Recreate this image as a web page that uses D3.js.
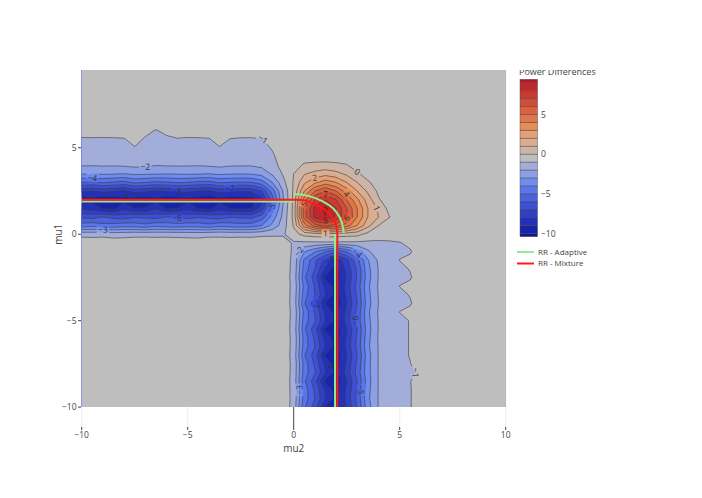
<!DOCTYPE html>
<meta charset="utf-8">
<style>
body { margin: 0; background: #fff; }
svg { font-family: "Open Sans", sans-serif; }
</style>
<svg width="702" height="498"></svg>
<script src="https://cdn.jsdelivr.net/npm/d3@7"></script>
<script>

// grid columns (mu2) and rows (mu1, top row first)
var mu2 = [-10,-9.5,-9,-8.5,-8,-7.5,-7,-6.5,-6,-5.5,-5,-4.5,-4,-3.5,-3,-2.5,-2,-1.5,-1,-0.5,
           0,0.5,1,1.5,2,2.5,3,3.5,4,4.5,5,5.5,6,6.5,7,7.5,8,8.5,9,9.5,10];
var mu1 = [9.5,9,8.5,8,7.5,7,6.5,6,5.5,5,4.5,4,3.5,3,2.5,2,1.5,1,0.5,0,
           -0.5,-1,-1.5,-2,-2.5,-3,-3.5,-4,-4.5,-5,-5.5,-6,-6.5,-7,-7.5,-8,-8.5,-9,-9.5,-10];

// power difference, one row per mu1 value (top to bottom)
var power = [
[-.5,-.5,-.5,-.5,-.5,-.5,-.5,-.5,-.5,-.5,-.5,-.5,-.5,-.5,-.5,-.5,-.5,-.5,-.5,-.5,-.5,-.5,-.5,-.5,-.5,-.5,-.5,-.5,-.5,-.5,-.5,-.5,-.5,-.5,-.5,-.5,-.5,-.5,-.5,-.5,-.5],
[-.5,-.5,-.5,-.5,-.5,-.5,-.5,-.5,-.5,-.5,-.5,-.5,-.5,-.5,-.5,-.5,-.5,-.5,-.5,-.5,-.5,-.5,-.5,-.5,-.5,-.5,-.5,-.5,-.5,-.5,-.5,-.5,-.5,-.5,-.5,-.5,-.5,-.5,-.5,-.5,-.5],
[-.5,-.5,-.5,-.5,-.5,-.5,-.5,-.5,-.5,-.5,-.5,-.5,-.5,-.5,-.5,-.5,-.5,-.5,-.5,-.5,-.5,-.5,-.5,-.5,-.5,-.5,-.5,-.5,-.5,-.5,-.5,-.5,-.5,-.5,-.5,-.5,-.5,-.5,-.5,-.5,-.5],
[-.5,-.5,-.5,-.5,-.5,-.5,-.5,-.5,-.5,-.5,-.5,-.5,-.5,-.5,-.5,-.5,-.5,-.5,-.5,-.5,-.5,-.5,-.5,-.5,-.5,-.5,-.5,-.5,-.5,-.5,-.5,-.5,-.5,-.5,-.5,-.5,-.5,-.5,-.5,-.5,-.5],
[-.5,-.5,-.5,-.5,-.5,-.5,-.5,-.5,-.5,-.5,-.5,-.5,-.5,-.5,-.5,-.5,-.5,-.5,-.5,-.5,-.5,-.5,-.5,-.5,-.5,-.5,-.5,-.5,-.5,-.5,-.5,-.5,-.5,-.5,-.5,-.5,-.5,-.5,-.5,-.5,-.5],
[-.5,-.5,-.5,-.5,-.5,-.5,-.5,-.5,-.5,-.5,-.5,-.5,-.5,-.5,-.5,-.5,-.5,-.5,-.5,-.5,-.5,-.5,-.5,-.5,-.5,-.5,-.5,-.5,-.5,-.5,-.5,-.5,-.5,-.5,-.5,-.5,-.5,-.5,-.5,-.5,-.5],
[-.5,-.5,-.5,-.5,-.5,-.5,-.5,-.5,-.5,-.5,-.5,-.5,-.5,-.5,-.5,-.5,-.5,-.5,-.5,-.5,-.5,-.5,-.5,-.5,-.5,-.5,-.5,-.5,-.5,-.5,-.5,-.5,-.5,-.5,-.5,-.5,-.5,-.5,-.5,-.5,-.5],
[-.6,-.6,-.6,-.6,-.6,-.6,-.75,-1.05,-.8,-.6,-.6,-.6,-.6,-.6,-.6,-.6,-.6,-.6,-.55,-.5,-.5,-.5,-.5,-.5,-.5,-.5,-.5,-.5,-.5,-.5,-.5,-.5,-.5,-.5,-.5,-.5,-.5,-.5,-.5,-.5,-.5],
[-1.1,-1.08,-1.1,-1.08,-1.05,-.7,-1.1,-1.3,-1.15,-1.05,-1.1,-1.08,-1.05,-.7,-1.02,-1.08,-1.08,-1.02,-.82,-.58,-.5,-.5,-.5,-.5,-.5,-.5,-.5,-.5,-.5,-.5,-.5,-.5,-.5,-.5,-.5,-.5,-.5,-.5,-.5,-.5,-.5],
[-1.3,-1.32,-1.28,-1.3,-1.25,-1.05,-1.3,-1.35,-1.3,-1.28,-1.3,-1.32,-1.25,-1.05,-1.28,-1.3,-1.3,-1.2,-.94,-.62,-.5,-.5,-.5,-.5,-.5,-.5,-.5,-.5,-.5,-.5,-.5,-.5,-.5,-.5,-.5,-.5,-.5,-.5,-.5,-.5,-.5],
[-1.6,-1.62,-1.58,-1.6,-1.55,-1.45,-1.6,-1.65,-1.6,-1.58,-1.6,-1.62,-1.55,-1.45,-1.58,-1.6,-1.6,-1.47,-1.1,-.67,-.5,-.5,-.5,-.5,-.5,-.5,-.5,-.5,-.5,-.5,-.5,-.5,-.5,-.5,-.5,-.5,-.5,-.5,-.5,-.5,-.5],
[-1.9,-1.92,-1.88,-1.9,-1.85,-1.75,-1.8,-1.95,-1.9,-1.88,-1.9,-1.92,-1.85,-1.75,-1.88,-1.9,-1.9,-1.73,-1.27,-.72,-.5,.15,.25,.3,.2,.05,-.5,-.5,-.5,-.5,-.5,-.5,-.5,-.5,-.5,-.5,-.5,-.5,-.5,-.5,-.5],
[-2.9,-2.95,-2.85,-2.9,-3,-2.8,-2.85,-2.9,-2.95,-2.9,-2.85,-2.9,-3,-2.8,-2.9,-2.95,-2.9,-2.6,-1.82,-.9,0,.9,1.3,1.6,1.3,.8,.15,-.5,-.5,-.5,-.5,-.5,-.5,-.5,-.5,-.5,-.5,-.5,-.5,-.5,-.5],
[-5,-5.2,-4.9,-5.1,-5.3,-4.8,-5,-5.2,-5.1,-4.9,-5,-5.2,-5.3,-4.9,-5,-5.1,-5,-4.46,-2.98,-1.3,.1,1.8,2.8,3.5,3,2,1,.15,-.5,-.5,-.5,-.5,-.5,-.5,-.5,-.5,-.5,-.5,-.5,-.5,-.5],
[-7.8,-8,-7.7,-7.9,-8.1,-7.6,-7.8,-8,-7.9,-7.7,-7.8,-8,-8.1,-7.7,-7.8,-7.9,-7.8,-6.92,-4.5,-1.9,.2,3,5,6,5,3.5,2,.8,-.2,-.5,-.5,-.5,-.5,-.5,-.5,-.5,-.5,-.5,-.5,-.5,-.5],
[-9.6,-9.3,-9.8,-9.7,-9.3,-9.5,-9.7,-9.3,-9.8,-9.6,-9.3,-9.5,-9.8,-9.4,-9.7,-9.6,-9.4,-8.33,-5.4,-2.1,.3,4.5,7,8,7,5,3.2,1.5,.1,-.5,-.5,-.5,-.5,-.5,-.5,-.5,-.5,-.5,-.5,-.5,-.5],
[-8.3,-8.4,-9.1,-9.2,-8.3,-9,-8.9,-8.2,-9.1,-9,-8.3,-9.1,-9.2,-8.4,-9,-9.1,-9,-7.6,-4.6,-1.9,.3,5.5,8.3,9.3,8,6,4,2,.8,-.3,-.5,-.5,-.5,-.5,-.5,-.5,-.5,-.5,-.5,-.5,-.5],
[-6.2,-6.4,-6,-6.3,-6.5,-6.1,-6.2,-6.4,-6,-6.2,-6.4,-6.1,-6.3,-6.5,-6.1,-6.2,-6.3,-5.5,-3.6,-1.7,.3,5.5,8.3,9,7.8,6.2,4,2,1,.05,-.5,-.5,-.5,-.5,-.5,-.5,-.5,-.5,-.5,-.5,-.5],
[-4.5,-4.3,-4.7,-4.6,-4.4,-4.5,-4.7,-4.3,-4.5,-4.6,-4.4,-4.5,-4.7,-4.3,-4.5,-4.6,-4.5,-4,-2.7,-1.5,.1,3.5,5.5,6.5,5.5,4.5,3,1.3,0,-.5,-.5,-.5,-.5,-.5,-.5,-.5,-.5,-.5,-.5,-.5,-.5],
[-1.26,-1.3,-1.25,-1.4,-1.35,-1.26,-1.25,-1.28,-1.26,-1.3,-1.35,-1.4,-1.26,-1.25,-1.3,-1.26,-1.28,-1.17,-1.15,-1.15,-.3,.3,.5,.6,.5,.4,.3,-.3,-.5,-.5,-.5,-.5,-.5,-.5,-.5,-.5,-.5,-.5,-.5,-.5,-.5],
[-.5,-.5,-.5,-.5,-.5,-.5,-.5,-.5,-.5,-.5,-.5,-.5,-.5,-.5,-.5,-.5,-.5,-.5,-.5,-.5,-1.15,-1.2,-1.2,-1.2,-1.2,-1.2,-1.2,-1.2,-1.2,-1.15,-1.05,-.8,-.5,-.5,-.5,-.5,-.5,-.5,-.5,-.5,-.5],
[-.5,-.5,-.5,-.5,-.5,-.5,-.5,-.5,-.5,-.5,-.5,-.5,-.5,-.5,-.5,-.5,-.5,-.5,-.5,-.5,-1.15,-2.9,-3.92,-5,-5.84,-4.88,-3.68,-2.18,-1.34,-1.2,-1.15,-1.08,-.5,-.5,-.5,-.5,-.5,-.5,-.5,-.5,-.5],
[-.5,-.5,-.5,-.5,-.5,-.5,-.5,-.5,-.5,-.5,-.5,-.5,-.5,-.5,-.5,-.5,-.5,-.5,-.5,-.5,-1.22,-4.18,-5.74,-7.4,-8.69,-7.22,-5.38,-3.08,-1.84,-1.55,-.98,-.8,-.5,-.5,-.5,-.5,-.5,-.5,-.5,-.5,-.5],
[-.5,-.5,-.5,-.5,-.5,-.5,-.5,-.5,-.5,-.5,-.5,-.5,-.5,-.5,-.5,-.5,-.5,-.5,-.5,-.5,-1.26,-4.4,-6,-8.2,-9.5,-7.7,-5.8,-3.3,-1.95,-1.6,-1.2,-.95,-.5,-.5,-.5,-.5,-.5,-.5,-.5,-.5,-.5],
[-.5,-.5,-.5,-.5,-.5,-.5,-.5,-.5,-.5,-.5,-.5,-.5,-.5,-.5,-.5,-.5,-.5,-.5,-.5,-.5,-1.3,-4.8,-6.5,-9.2,-9.6,-7.9,-5.9,-3.4,-1.95,-1.6,-1.3,-1.08,-.5,-.5,-.5,-.5,-.5,-.5,-.5,-.5,-.5],
[-.5,-.5,-.5,-.5,-.5,-.5,-.5,-.5,-.5,-.5,-.5,-.5,-.5,-.5,-.5,-.5,-.5,-.5,-.5,-.5,-1.25,-4.3,-6.1,-8.3,-9.4,-7.6,-5.6,-3.2,-1.9,-1.6,-.98,-.8,-.5,-.5,-.5,-.5,-.5,-.5,-.5,-.5,-.5],
[-.5,-.5,-.5,-.5,-.5,-.5,-.5,-.5,-.5,-.5,-.5,-.5,-.5,-.5,-.5,-.5,-.5,-.5,-.5,-.5,-1.28,-4.6,-6,-8,-9.5,-7.8,-5.8,-3.3,-1.95,-1.6,-1.2,-.95,-.5,-.5,-.5,-.5,-.5,-.5,-.5,-.5,-.5],
[-.5,-.5,-.5,-.5,-.5,-.5,-.5,-.5,-.5,-.5,-.5,-.5,-.5,-.5,-.5,-.5,-.5,-.5,-.5,-.5,-1.3,-4.9,-6.6,-9.1,-9.7,-8,-6,-3.4,-2,-1.6,-1.3,-1.08,-.5,-.5,-.5,-.5,-.5,-.5,-.5,-.5,-.5],
[-.5,-.5,-.5,-.5,-.5,-.5,-.5,-.5,-.5,-.5,-.5,-.5,-.5,-.5,-.5,-.5,-.5,-.5,-.5,-.5,-1.24,-4.3,-6.1,-8.2,-9.4,-7.7,-5.7,-3.2,-1.9,-1.6,-.98,-.8,-.5,-.5,-.5,-.5,-.5,-.5,-.5,-.5,-.5],
[-.5,-.5,-.5,-.5,-.5,-.5,-.5,-.5,-.5,-.5,-.5,-.5,-.5,-.5,-.5,-.5,-.5,-.5,-.5,-.5,-1.26,-4.5,-5.9,-8,-9.3,-7.6,-5.6,-3.3,-1.95,-1.6,-1.25,-.95,-.5,-.5,-.5,-.5,-.5,-.5,-.5,-.5,-.5],
[-.5,-.5,-.5,-.5,-.5,-.5,-.5,-.5,-.5,-.5,-.5,-.5,-.5,-.5,-.5,-.5,-.5,-.5,-.5,-.5,-1.3,-4.8,-6.6,-9.2,-9.6,-8,-6,-3.4,-1.95,-1.6,-1.25,-.95,-.5,-.5,-.5,-.5,-.5,-.5,-.5,-.5,-.5],
[-.5,-.5,-.5,-.5,-.5,-.5,-.5,-.5,-.5,-.5,-.5,-.5,-.5,-.5,-.5,-.5,-.5,-.5,-.5,-.5,-1.25,-4.4,-6.2,-8.3,-9.5,-7.8,-5.8,-3.3,-1.9,-1.6,-1.25,-.95,-.5,-.5,-.5,-.5,-.5,-.5,-.5,-.5,-.5],
[-.5,-.5,-.5,-.5,-.5,-.5,-.5,-.5,-.5,-.5,-.5,-.5,-.5,-.5,-.5,-.5,-.5,-.5,-.5,-.5,-1.26,-4.5,-6,-8.1,-9.4,-7.7,-5.7,-3.2,-1.95,-1.6,-1.25,-.95,-.5,-.5,-.5,-.5,-.5,-.5,-.5,-.5,-.5],
[-.5,-.5,-.5,-.5,-.5,-.5,-.5,-.5,-.5,-.5,-.5,-.5,-.5,-.5,-.5,-.5,-.5,-.5,-.5,-.5,-1.3,-4.9,-6.5,-9.1,-9.6,-8,-6,-3.4,-1.95,-1.6,-1.25,-.95,-.5,-.5,-.5,-.5,-.5,-.5,-.5,-.5,-.5],
[-.5,-.5,-.5,-.5,-.5,-.5,-.5,-.5,-.5,-.5,-.5,-.5,-.5,-.5,-.5,-.5,-.5,-.5,-.5,-.5,-1.25,-4.4,-6.2,-8.3,-9.5,-7.8,-5.8,-3.3,-1.95,-1.6,-1.3,-1.02,-.6,-.5,-.5,-.5,-.5,-.5,-.5,-.5,-.5],
[-.5,-.5,-.5,-.5,-.5,-.5,-.5,-.5,-.5,-.5,-.5,-.5,-.5,-.5,-.5,-.5,-.5,-.5,-.5,-.5,-1.26,-4.5,-5.9,-8,-9.4,-7.6,-5.6,-3.3,-1.95,-1.6,-1.3,-1.1,-.9,-.5,-.5,-.5,-.5,-.5,-.5,-.5,-.5],
[-.5,-.5,-.5,-.5,-.5,-.5,-.5,-.5,-.5,-.5,-.5,-.5,-.5,-.5,-.5,-.5,-.5,-.5,-.5,-.5,-1.3,-4.8,-6.6,-9.2,-9.7,-8,-6,-3.4,-1.95,-1.6,-1.3,-1.02,-.6,-.5,-.5,-.5,-.5,-.5,-.5,-.5,-.5],
[-.5,-.5,-.5,-.5,-.5,-.5,-.5,-.5,-.5,-.5,-.5,-.5,-.5,-.5,-.5,-.5,-.5,-.5,-.5,-.5,-1.28,-4.4,-6.2,-8.2,-9.5,-7.8,-5.9,-3.3,-1.95,-1.6,-1.3,-1.05,-.5,-.5,-.5,-.5,-.5,-.5,-.5,-.5,-.5],
[-.5,-.5,-.5,-.5,-.5,-.5,-.5,-.5,-.5,-.5,-.5,-.5,-.5,-.5,-.5,-.5,-.5,-.5,-.5,-.5,-1.26,-4.5,-6,-8,-9.4,-7.7,-5.7,-3.2,-1.95,-1.6,-1.3,-1.05,-.5,-.5,-.5,-.5,-.5,-.5,-.5,-.5,-.5],
[-.5,-.5,-.5,-.5,-.5,-.5,-.5,-.5,-.5,-.5,-.5,-.5,-.5,-.5,-.5,-.5,-.5,-.5,-.5,-.5,-1.3,-4.8,-6.5,-9.1,-9.6,-7.9,-5.9,-3.4,-1.95,-1.6,-1.3,-1.05,-.5,-.5,-.5,-.5,-.5,-.5,-.5,-.5,-.5]
];

// contour levels and band colours (below -10 ... above 9)
var levels = [-10,-9,-8,-7,-6,-5,-4,-3,-2,-1,0,1,2,3,4,5,6,7,8,9];
var bandColors = ["#0d159a","#1724a9","#2330b8","#2f3fc6","#3d50d3","#4b62df","#5a76ea","#6d8df3",
                  "#8b9fe7","#a3add9","#bebebe","#ccb5a6","#dbad90","#e5a073","#e88c58","#e2764a",
                  "#da613f","#d24d37","#c93a31","#c1272a","#b71622"];
var zRange = [-10.36, 9.43];

// contour labels: level and a point near where it sits
var labelLevel = [-1,-2,-4,-8,-7,-6,-5,-3,-9, 2,0,7,4,5,8,6,1,1, -2,-8,-4,-7,-6,-9,-3,-5,-1];
var labelMu2 = [-1.19,-7.23,-9.3,-5.5,-2.9,-5.7,-1.0,-9.2,-8.1, 1.02,2.91,1.46,2.4,0.58,1.46,2.44,3.9,1.55,
                0.32,1.87,3.15,1.15,3.02,1.77,0.27,3.18,5.88];
var labelMu1 = [5.5,4.0,3.3,2.5,2.75,1.0,1.24,0.25,2.0, 3.25,3.5,2.28,2.34,1.8,1.22,0.93,1.3,0.3,
                -0.91,-1.5,-1.2,-3.92,-4.9,-7.5,-8.86,-9.15,-7.9];

// rejection region boundaries
var adaptiveMu2 = [-10,0,null,0,0.35,0.7,1.02,1.35,1.65,1.88,2.05,2.18,2.28,2.33,2.36,null,1.95,1.95];
var adaptiveMu1 = [1.9,1.9,null,2.33,2.3,2.22,2.09,1.92,1.7,1.47,1.22,0.95,0.64,0.35,0.06,null,0.02,-10];
var mixtureMu2 = [-10,0.2,0.55,0.87,1.15,1.34,1.55,1.73,1.87,1.97,2.03,2.06,2.06];
var mixtureMu1 = [2.0,2.0,1.95,1.8,1.65,1.51,1.33,1.12,0.88,0.64,0.35,0.06,-10];

var xTicks = [-10,-5,0,5,10];
var yTicks = [-10,-5,0,5];
var cbTicks = [-10,-5,0,5];

var svg = d3.select("svg");
var x = d3.scaleLinear().domain([-10, 10]).range([81.7, 505.7]);
var y = d3.scaleLinear().domain([-11.15, 9.5]).range([427, 70]);
var color = d3.scaleThreshold().domain(levels).range(bandColors);

var nx = mu2.length, ny = mu1.length;
var mu1Up = mu1.slice().reverse();
var values = power.slice().reverse().flat();
var gx = d3.scaleLinear().domain([0.5, nx - 0.5]).range([mu2[0], mu2[nx - 1]]);
var gy = d3.scaleLinear().domain([0.5, ny - 0.5]).range([mu1Up[0], mu1Up[ny - 1]]);
var proj = d3.geoTransform({point: function(px, py) { this.stream.point(x(gx(px)), y(gy(py))); }});
var path = d3.geoPath(proj);
var contourGen = d3.contours().size([nx, ny]);

var x0 = x(mu2[0]), x1 = x(mu2[nx - 1]), yTop = y(mu1[0]), yBot = y(mu1[ny - 1]);

var defs = svg.append("defs");
defs.append("clipPath").attr("id", "plotclip").append("rect")
    .attr("x", x0).attr("y", yTop).attr("width", x1 - x0).attr("height", yBot - yTop);

// grid + zero line
var grid = svg.append("g");
grid.selectAll("line.gx").data(xTicks).enter().append("line")
    .attr("x1", function(d) { return x(d); }).attr("x2", function(d) { return x(d); })
    .attr("y1", 70).attr("y2", 427)
    .attr("stroke", function(d) { return d === 0 ? "#444" : "#eee"; })
    .attr("stroke-width", 1);

// filled contours
var plot = svg.append("g").attr("clip-path", "url(#plotclip)");
plot.append("rect").attr("x", x0).attr("y", yTop).attr("width", x1 - x0).attr("height", yBot - yTop)
    .attr("fill", bandColors[0]);
var bands = levels.map(function(l) { return contourGen.contour(values, l); });
plot.selectAll("path.fill").data(bands).enter().append("path")
    .attr("d", path)
    .attr("fill", function(d) { return color(d.value); });

// labels (placed on their contour line) and a mask that cuts the lines under them
var mask = defs.append("mask").attr("id", "labelmask");
mask.append("rect").attr("x", 0).attr("y", 0).attr("width", 702).attr("height", 498).attr("fill", "#fff");

var lineG = plot.append("g").attr("mask", "url(#labelmask)");
lineG.selectAll("path.line").data(bands).enter().append("path")
    .attr("d", path)
    .attr("fill", "none")
    .attr("stroke", "#3a3a3a")
    .attr("stroke-width", 0.6);

var fmt = d3.format("d");
var labG = svg.append("g");
labelLevel.forEach(function(lv, i) {
  var geo = contourGen.contour(values, lv);
  var hx = x(labelMu2[i]), hy = y(labelMu1[i]);
  var best = null, bd = Infinity;
  geo.coordinates.forEach(function(poly) {
    poly.forEach(function(ring) {
      var pts = ring.map(function(p) { return [x(gx(p[0])), y(gy(p[1]))]; });
      pts.forEach(function(p, k) {
        if (p[0] < x0 + 4 || p[0] > x1 - 4 || p[1] < yTop + 4 || p[1] > yBot - 4) return;
        var d = (p[0] - hx) * (p[0] - hx) + (p[1] - hy) * (p[1] - hy);
        if (d < bd) {
          bd = d;
          best = {p: p, a: pts[(k - 2 + pts.length) % pts.length], b: pts[(k + 2) % pts.length]};
        }
      });
    });
  });
  if (!best) return;
  var ang = Math.atan2(best.b[1] - best.a[1], best.b[0] - best.a[0]) * 180 / Math.PI;
  if (ang > 90) ang -= 180;
  if (ang < -90) ang += 180;
  var tr = "translate(" + best.p[0] + "," + best.p[1] + ") rotate(" + ang + ")";
  var t = labG.append("text")
      .attr("transform", tr)
      .attr("text-anchor", "middle")
      .attr("dy", "0.35em")
      .attr("font-size", 8.5)
      .attr("fill", "#333")
      .text(fmt(lv));
  var w = t.node().getComputedTextLength() + 3;
  mask.append("rect").attr("transform", tr)
      .attr("x", -w / 2).attr("y", -4.5).attr("width", w).attr("height", 9).attr("fill", "#000");
});

// boundary lines
var line = d3.line()
    .defined(function(d) { return d[0] !== null; })
    .x(function(d) { return x(d[0]); })
    .y(function(d) { return y(d[1]); });
var lines = svg.append("g").attr("clip-path", "url(#plotclip)");
lines.append("path")
    .attr("d", line(d3.zip(adaptiveMu2, adaptiveMu1)))
    .attr("fill", "none").attr("stroke", "#90ee90").attr("stroke-width", 2);
lines.append("path")
    .attr("d", line(d3.zip(mixtureMu2, mixtureMu1)))
    .attr("fill", "none").attr("stroke", "#ff1a1a").attr("stroke-width", 2);

// axes
var ax = svg.append("g").attr("font-size", 8.5).attr("fill", "#444");
xTicks.forEach(function(t) {
  ax.append("line").attr("x1", x(t)).attr("x2", x(t)).attr("y1", 427).attr("y2", 430)
      .attr("stroke", "#444").attr("stroke-width", 1);
  ax.append("text").attr("x", x(t)).attr("y", 437.5).attr("text-anchor", "middle").text(fmt(t));
});
yTicks.forEach(function(t) {
  ax.append("line").attr("x1", 78).attr("x2", 81).attr("y1", y(t)).attr("y2", y(t))
      .attr("stroke", "#444").attr("stroke-width", 1);
  ax.append("text").attr("x", 76.5).attr("y", y(t)).attr("dy", "0.35em")
      .attr("text-anchor", "end").text(fmt(t));
});
ax.append("text").attr("x", x(0)).attr("y", 451.5).attr("text-anchor", "middle")
    .attr("font-size", 10).text("mu2");
ax.append("text").attr("transform", "translate(62," + y(0) + ") rotate(-90)")
    .attr("text-anchor", "middle").attr("font-size", 10).text("mu1");

// colour bar
var cbY = d3.scaleLinear().domain(zRange).range([236.7, 79.3]);
var edges = [zRange[0]].concat(levels, [zRange[1]]);
var cb = svg.append("g");
cb.selectAll("rect").data(d3.range(edges.length - 1)).enter().append("rect")
    .attr("x", 520).attr("width", 17.5)
    .attr("y", function(i) { return cbY(edges[i + 1]); })
    .attr("height", function(i) { return cbY(edges[i]) - cbY(edges[i + 1]); })
    .attr("fill", function(i) { return bandColors[i]; });
cb.selectAll("line").data(levels).enter().append("line")
    .attr("x1", 520).attr("x2", 537.5)
    .attr("y1", function(d) { return cbY(d); }).attr("y2", function(d) { return cbY(d); })
    .attr("stroke", "#3a3a3a").attr("stroke-width", 0.6);
cb.append("rect").attr("x", 520).attr("y", cbY(zRange[1])).attr("width", 17.5)
    .attr("height", cbY(zRange[0]) - cbY(zRange[1]))
    .attr("fill", "none").attr("stroke", "#555").attr("stroke-width", 0.5);
cb.selectAll("text").data(cbTicks).enter().append("text")
    .attr("x", 541).attr("y", function(d) { return cbY(d); }).attr("dy", "0.35em")
    .attr("font-size", 8.5).attr("fill", "#444").text(fmt);
defs.append("clipPath").attr("id", "titleclip").append("rect")
    .attr("x", 505).attr("y", 70).attr("width", 120).attr("height", 10);
cb.append("text").attr("clip-path", "url(#titleclip)")
    .attr("x", 519).attr("y", 75).attr("font-size", 9).attr("fill", "#444")
    .text("Power Differences");

// legend
var legend = [["RR - Adaptive", "#90ee90"], ["RR - Mixture", "#ff1a1a"]];
var lg = svg.append("g");
legend.forEach(function(d, i) {
  var yy = 252 + i * 11.5;
  lg.append("line").attr("x1", 517).attr("x2", 534).attr("y1", yy).attr("y2", yy)
      .attr("stroke", d[1]).attr("stroke-width", 2);
  lg.append("text").attr("x", 538).attr("y", yy).attr("dy", "0.35em")
      .attr("font-size", 8).attr("fill", "#444").text(d[0]);
});
</script>
